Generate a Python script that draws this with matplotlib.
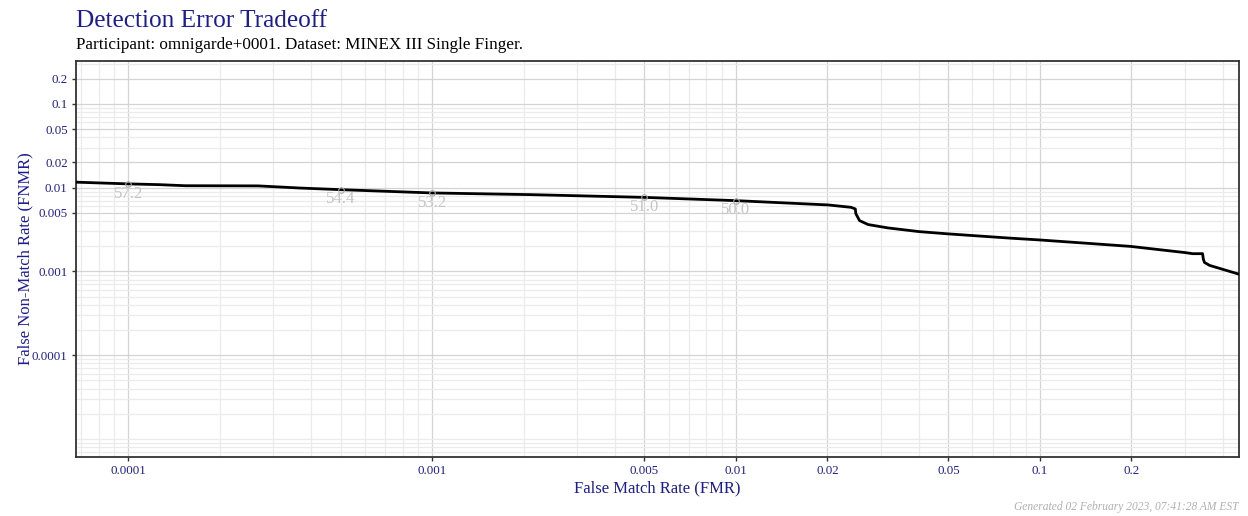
import numpy as np
import matplotlib.pyplot as plt
from matplotlib.ticker import FixedLocator, NullFormatter, FixedFormatter

plt.rcParams['font.family'] = ['Liberation Serif', 'DejaVu Serif']

# DET curve
fmr = [6.75e-5, 1.0e-4, 1.27e-4, 1.54e-4, 2.68e-4, 3.68e-4, 5.0e-4, 1.0e-3,
       2.1e-3, 5.0e-3, 1.0e-2, 1.5e-2, 2.01e-2, 2.39e-2, 2.47e-2, 2.48e-2,
       2.55e-2, 2.72e-2, 3.16e-2, 4.0e-2, 4.98e-2, 8.09e-2, 9.93e-2, 0.1507,
       0.199, 0.300, 0.318, 0.343, 0.345, 0.348, 0.362, 0.451]
fnmr = [0.01163, 0.01110, 0.01086, 0.01055, 0.01050, 0.00990, 0.00947, 0.00865,
        0.00826, 0.00766, 0.00700, 0.00654, 0.00622, 0.00583, 0.00558, 0.00490,
        0.00405, 0.00363, 0.00331, 0.00299, 0.00281, 0.00249, 0.00238, 0.00214,
        0.00199, 0.00168, 0.00163, 0.00163, 0.00140, 0.00128, 0.00118, 0.00093]

# threshold markers
thr_fmr = [1e-4, 5e-4, 1e-3, 5e-3, 1e-2]
thr_fnmr = [0.01107, 0.00947, 0.00865, 0.00766, 0.00700]
thr_labels = ["57.2", "54.4", "53.2", "51.0", "50.0"]

x_ticks = [1e-4, 1e-3, 5e-3, 1e-2, 2e-2, 5e-2, 1e-1, 2e-1]
x_ticklabels = ["0.0001", "0.001", "0.005", "0.01", "0.02", "0.05", "0.1", "0.2"]
y_ticks = [1e-4, 1e-3, 5e-3, 1e-2, 2e-2, 5e-2, 1e-1, 2e-1]
y_ticklabels = ["0.0001", "0.001", "0.005", "0.01", "0.02", "0.05", "0.1", "0.2"]

blue = "#1c1c96"

fig = plt.figure(figsize=(12.48, 5.16), dpi=100)
ax = fig.add_axes([76/1248, 1-457/516, (1239-76)/1248, (457-61)/516])

ax.set_xscale("log")
ax.set_yscale("log")
ax.set_xlim(6.74e-5, 0.452)
ax.set_ylim(6.1e-6, 0.325)

minors = [m * 10.0**k for k in range(-6, 1) for m in range(1, 10)]
ax.xaxis.set_major_locator(FixedLocator(x_ticks))
ax.xaxis.set_major_formatter(FixedFormatter(x_ticklabels))
ax.yaxis.set_major_locator(FixedLocator(y_ticks))
ax.yaxis.set_major_formatter(FixedFormatter(y_ticklabels))
ax.xaxis.set_minor_locator(FixedLocator(minors))
ax.yaxis.set_minor_locator(FixedLocator(minors))
ax.xaxis.set_minor_formatter(NullFormatter())
ax.yaxis.set_minor_formatter(NullFormatter())

ax.grid(which="minor", color="#ebebeb", lw=0.9)
ax.grid(which="major", color="#d4d4d4", lw=0.9)
ax.set_axisbelow(True)
ax.tick_params(which="minor", length=0)
ax.tick_params(which="major", length=3, width=1, color="#333333",
               labelsize=9.3, labelcolor=blue, pad=3)

for s in ax.spines.values():
    s.set_color("#333333")
    s.set_linewidth(1.3)

ax.plot(fmr, fnmr, color="black", lw=2.0, zorder=3)
ax.plot(thr_fmr, thr_fnmr, "o", ms=4, mfc="none", mec="#aaaaaa", mew=0.8, zorder=4)
for xv, yv, lab in zip(thr_fmr, thr_fnmr, thr_labels):
    ax.annotate(lab, (xv, yv), xytext=(0, -7), textcoords="offset points",
                ha="center", va="center", fontsize=12, color="#c4c4c4", zorder=5)

ax.set_xlabel("False Match Rate (FMR)", fontsize=12, color=blue, labelpad=2)
ax.set_ylabel("False Non-Match Rate (FNMR)", fontsize=12, color=blue, labelpad=-1)

fig.text(76/1248, 1-27/516, "Detection Error Tradeoff", fontsize=18.2,
         color=blue, ha="left", va="baseline")
fig.text(76/1248, 1-49/516, "Participant: omnigarde+0001. Dataset: MINEX III Single Finger.",
         fontsize=12.3, color="black", ha="left", va="baseline")
fig.text(1238/1248, 1-507/516, "Generated 02 February 2023, 07:41:28 AM EST",
         fontsize=8.3, style="italic", color="#b0b0b0", ha="right", va="center")

plt.savefig("out.png", dpi=100)
